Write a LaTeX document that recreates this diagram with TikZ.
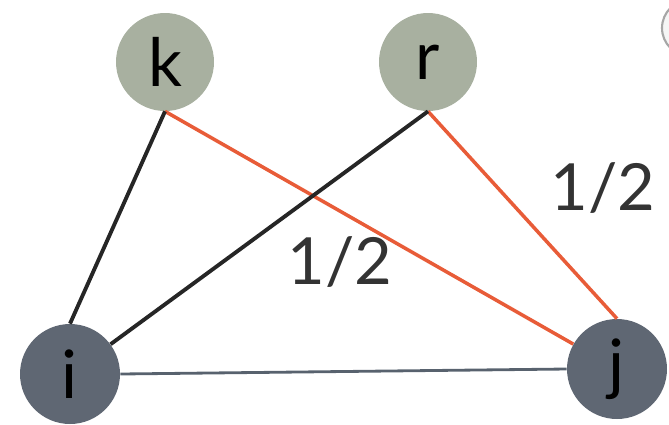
\documentclass[tikz,border=0pt]{standalone}
\usepackage{fontspec}
\setmainfont{Lato}
\definecolor{sage}{RGB}{168,176,160}
\definecolor{slate}{RGB}{95,103,115}
\definecolor{edgered}{RGB}{232,92,56}
\definecolor{edgegrey}{RGB}{88,98,110}
\tikzset{
    topnode/.style={circle, fill=sage, minimum size=1.96cm, inner sep=0pt, font=\fontsize{38}{40}\selectfont},
    botnode/.style={circle, fill=slate, minimum size=2cm, inner sep=0pt, font=\fontsize{38}{40}\selectfont},
    weight/.style={font=\fontsize{37}{40}\selectfont, text=black!80}
}
\begin{document}
\begin{tikzpicture}[x=0.02cm, y=-0.02cm]
        \useasboundingbox (0,0) rectangle (669,424);
        % partly hidden circle, top right
        \draw[line width=1.2pt, color=gray!70, fill=gray!8] (690,28) circle (28);
        \node[topnode] (k) at (165,62) {k};
        \node[topnode] (r) at (428,62) {r};
        \node[botnode] (i) at (70,374) {i};
        \node[botnode] (j) at (617,369) {j};
        \draw[line width=1.6pt, edgegrey] (i.east) -- (j.west);
        \draw[line width=2pt, edgered] (k.south) -- (j);
        \draw[line width=2pt, edgered] (r.south) -- (j.north);
        \draw[line width=2.2pt, black!85] (k.south) -- (i.north);
        \draw[line width=2.2pt, black!85] (r.south) -- (i);
        \node[weight] (wkj) at (340,262) {1/2};
        \node[weight] (wrj) at (603,188) {1/2};
    \end{tikzpicture}
\end{document}
